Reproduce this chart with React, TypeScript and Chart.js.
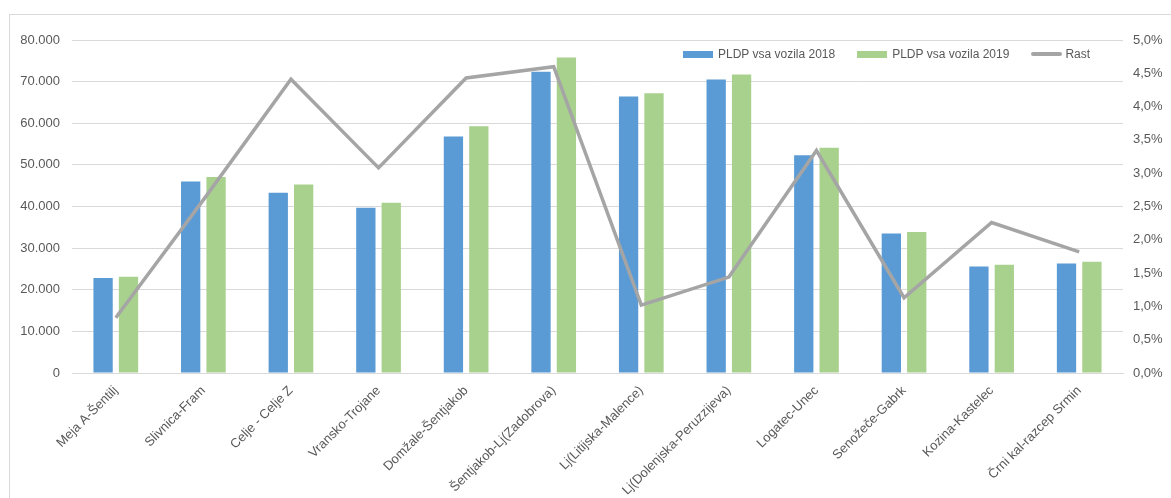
import React, { useEffect, useRef } from 'react';
import { Chart, registerables } from 'chart.js';

Chart.register(...registerables);

const categories = [
  'Meja A-Šentilj',
  'Slivnica-Fram',
  'Celje - Celje Z',
  'Vransko-Trojane',
  'Domžale-Šentjakob',
  'Šentjakob-Lj(Zadobrova)',
  'Lj(Litijska-Malence)',
  'Lj(Dolenjska-Peruzzijeva)',
  'Logatec-Unec',
  'Senožeče-Gabrk',
  'Kozina-Kastelec',
  'Črni kal-razcep Srmin',
];

const pldp2018 = [22850, 46000, 43300, 39700, 56800, 72400, 66400, 70500, 52300, 33500, 25600, 26300];
const pldp2019 = [23100, 47100, 45300, 40900, 59300, 75800, 67200, 71700, 54100, 33900, 26000, 26700];
const rast = [0.83, 2.6, 4.41, 3.08, 4.43, 4.6, 1.02, 1.44, 3.34, 1.13, 2.26, 1.82];

const seriesNames = ['PLDP vsa vozila 2018', 'PLDP vsa vozila 2019', 'Rast'];
const seriesColors = ['#5B9BD5', '#A9D18E', '#A5A5A5'];

const FONT = "'Liberation Sans', Arial, sans-serif";
const TEXT = '#595959';
const GRID = '#D9D9D9';

const fmtThousands = (v: number) =>
  v === 0 ? '0' : Math.round(v).toString().replace(/\B(?=(\d{3})+(?!\d))/g, '.');
const fmtPct = (v: number) => v.toFixed(1).replace('.', ',') + '%';

function Legend() {
  return (
    <div
      style={{
        position: 'absolute',
        left: 683,
        top: 46,
        display: 'flex',
        alignItems: 'center',
        fontFamily: FONT,
        fontSize: 12,
        color: TEXT,
        lineHeight: '16px',
        whiteSpace: 'nowrap',
      }}
    >
      {seriesNames.map((name, i) => (
        <div key={name} style={{ display: 'flex', alignItems: 'center', marginRight: i < 2 ? 22 : 0 }}>
          {i < 2 ? (
            <span style={{ display: 'inline-block', width: 30, height: 7, background: seriesColors[i], marginRight: 5 }} />
          ) : (
            <span style={{ display: 'inline-block', width: 31, height: 4, borderRadius: 2, background: seriesColors[i], marginRight: 3 }} />
          )}
          <span>{name}</span>
        </div>
      ))}
    </div>
  );
}

export default function App() {
  const ref = useRef<HTMLCanvasElement | null>(null);

  useEffect(() => {
    if (!ref.current) return;
    const chart = new Chart(ref.current, {
      data: {
        labels: categories,
        datasets: [
          {
            type: 'bar',
            label: seriesNames[0],
            data: pldp2018,
            backgroundColor: seriesColors[0],
            yAxisID: 'y',
            barPercentage: 0.76,
            categoryPercentage: 0.58,
            order: 1,
          },
          {
            type: 'bar',
            label: seriesNames[1],
            data: pldp2019,
            backgroundColor: seriesColors[1],
            yAxisID: 'y',
            barPercentage: 0.76,
            categoryPercentage: 0.58,
            order: 2,
          },
          {
            type: 'line',
            label: seriesNames[2],
            data: rast,
            borderColor: seriesColors[2],
            backgroundColor: seriesColors[2],
            borderWidth: 3.5,
            pointRadius: 0,
            tension: 0,
            yAxisID: 'y1',
            order: 0,
          },
        ],
      } as any,
      options: {
        responsive: false,
        animation: false,
        layout: { padding: { top: 40, left: 0, right: 0, bottom: 0 } },
        plugins: {
          tooltip: { enabled: false },
          legend: { display: false },
        },
        scales: {
          x: {
            offset: true,
            grid: { display: false, drawTicks: false },
            border: { color: GRID, width: 1 },
            ticks: {
              autoSkip: false,
              minRotation: 45,
              maxRotation: 45,
              padding: 10,
              color: TEXT,
              font: { family: FONT, size: 13 },
            },
            afterFit: (s: any) => {
              s.height = 125;
            },
          },
          y: {
            position: 'left',
            min: 0,
            max: 80000,
            grid: { color: GRID, drawTicks: false },
            border: { display: false },
            ticks: {
              stepSize: 10000,
              padding: 12,
              color: TEXT,
              font: { family: FONT, size: 13 },
              callback: (v: any) => fmtThousands(Number(v)),
            },
            afterFit: (s: any) => {
              s.width = 72;
            },
          },
          y1: {
            position: 'right',
            min: 0,
            max: 5,
            grid: { display: false, drawTicks: false },
            border: { display: false },
            ticks: {
              stepSize: 0.5,
              padding: 10,
              color: TEXT,
              font: { family: FONT, size: 13 },
              callback: (v: any) => fmtPct(Number(v)),
            },
            afterFit: (s: any) => {
              s.width = 48;
            },
          },
        },
      },
    });
    return () => chart.destroy();
  }, []);

  return (
    <div
      style={{
        position: 'fixed',
        left: 0,
        top: 0,
        width: 1171,
        height: 498,
        background: '#fff',
      }}
    >
      <div
        style={{
          position: 'absolute',
          left: 9,
          top: 14,
          right: 0,
          bottom: 0,
          borderTop: `1px solid ${GRID}`,
          borderLeft: `1px solid ${GRID}`,
        }}
      />
      <canvas ref={ref} width={1171} height={498} style={{ position: 'absolute', left: 0, top: 0 }} />
      <Legend />
    </div>
  );
}
